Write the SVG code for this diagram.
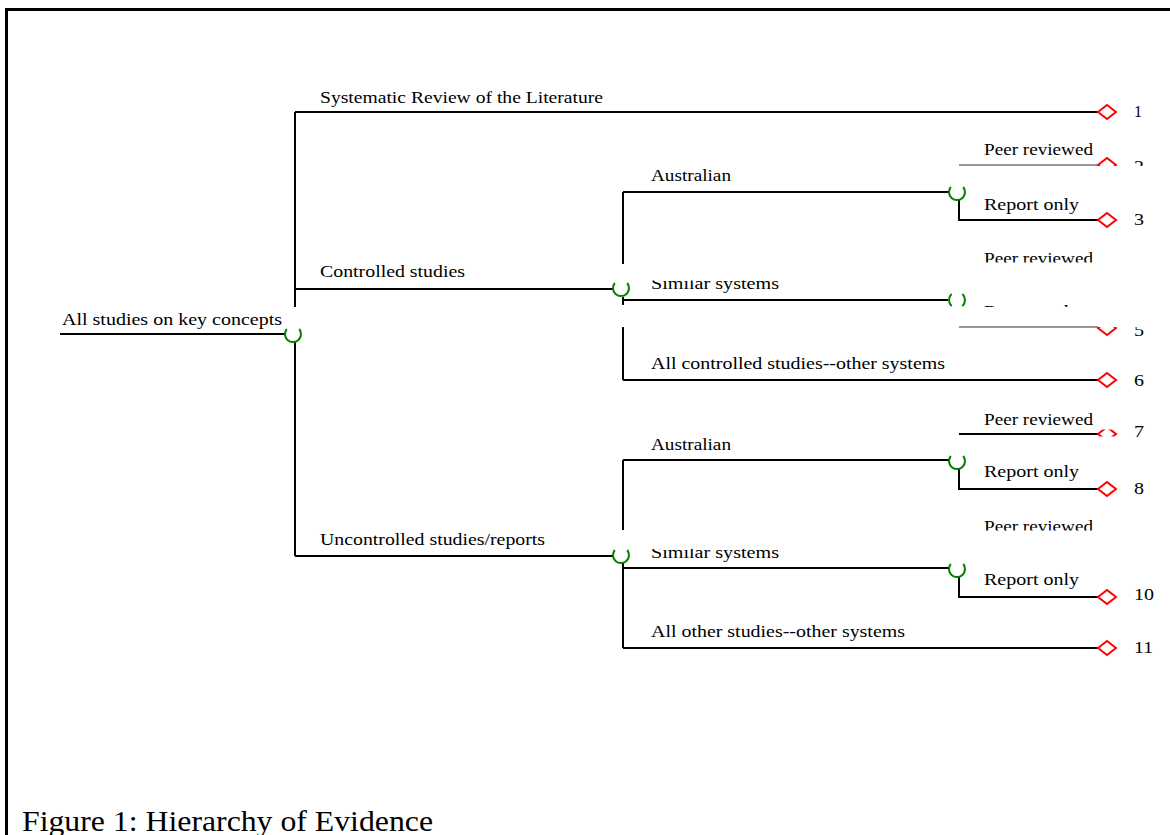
<svg xmlns="http://www.w3.org/2000/svg" width="1170" height="835" viewBox="0 0 1170 835">
<style>
  .ln{stroke:#000;stroke-width:2;fill:none}
  .thin{stroke:#333;stroke-width:1.2;fill:none}
  .bd{stroke:#000;stroke-width:3;fill:none}
  .ch{stroke:#008000;stroke-width:2;fill:none}
  .dm{stroke:#ff0000;stroke-width:2;fill:none}
  text{font-family:"Liberation Serif","Times New Roman",serif;font-size:16px;fill:#000}
  .cap{font-size:30px}
</style>
<defs>
  <path id="u" d="M-6.2,-5 A8,8 0 1 0 6.2,-5"/>
  <polygon id="d" points="-9,0 0,-7 9,0 0,7"/>
  <clipPath id="cP4"><rect x="900" y="0" width="270" height="262.5"/></clipPath>
  <clipPath id="cR5"><rect x="900" y="290" width="270" height="17"/></clipPath>
  <clipPath id="cB5"><rect x="900" y="327" width="270" height="30"/></clipPath>
  <clipPath id="cT2"><rect x="900" y="140" width="270" height="26"/></clipPath>
  <clipPath id="cM7"><rect x="1090" y="429.5" width="40" height="7"/></clipPath>
  <clipPath id="cP9"><rect x="900" y="500" width="270" height="30.5"/></clipPath>
  <clipPath id="cS1"><rect x="600" y="280.5" width="300" height="30"/></clipPath>
  <clipPath id="cS2"><rect x="600" y="549" width="300" height="30"/></clipPath>
  <clipPath id="cN"><rect x="940" y="293" width="40" height="14"/></clipPath>
</defs>

<g id="frame">
  <path class="bd" d="M6.5,835 V9.5 H1170"/>
</g>

<g id="connectors">
  <path class="ln" d="M60,334 H285"/>
  <path class="ln" d="M295,112 V307 M295,341 V556"/>
  <path class="ln" d="M295,112 H1098"/>
  <path class="ln" d="M295,289 H613"/>
  <path class="ln" d="M295,556 H613"/>
  <path class="ln" d="M623,192 V264 M623,297 V305 M623,327 V380"/>
  <path class="ln" d="M623,192 H949"/>
  <path class="ln" d="M623,300 H948"/>
  <path class="ln" d="M623,380 H1098"/>
  <path class="ln" d="M959,200 V220 H1098"/>
  <path class="thin" d="M959,165 H1098"/>
  <path class="thin" d="M959,327 H1098"/>
  <path class="ln" d="M623,460 V530 M623,563 V648"/>
  <path class="ln" d="M623,460 H949"/>
  <path class="ln" d="M623,568 H949"/>
  <path class="ln" d="M623,648 H1098"/>
  <path class="ln" d="M959,434 H1098"/>
  <path class="ln" d="M959,469 V489 H1098"/>
  <path class="ln" d="M959,577 V597 H1098"/>
</g>

<g id="root">
  <use href="#u" class="ch" transform="translate(293,334)"/>
  <text x="62" y="325" textLength="220" lengthAdjust="spacingAndGlyphs">All studies on key concepts</text>
</g>

<g id="systematic">
  <text x="320" y="103" textLength="283" lengthAdjust="spacingAndGlyphs">Systematic Review of the Literature</text>
  <use href="#d" class="dm" transform="translate(1107,112)"/>
  <text x="1134" y="117" textLength="8" lengthAdjust="spacingAndGlyphs">1</text>
</g>

<g id="controlled">
  <text x="320" y="277" textLength="145" lengthAdjust="spacingAndGlyphs">Controlled studies</text>
  <use href="#u" class="ch" transform="translate(621,288)"/>
</g>

<g id="c-australian">
  <text x="651" y="181" textLength="80" lengthAdjust="spacingAndGlyphs">Australian</text>
  <use href="#u" class="ch" transform="translate(957,192)"/>
</g>
<g id="c-aus-peer">
  <text x="984" y="155" textLength="109" lengthAdjust="spacingAndGlyphs">Peer reviewed</text>
  <g clip-path="url(#cT2)">
    <use href="#d" class="dm" transform="translate(1107,165)"/>
    <text x="1134" y="172" textLength="10" lengthAdjust="spacingAndGlyphs">2</text>
  </g>
</g>
<g id="c-aus-report">
  <text x="984" y="210" textLength="95" lengthAdjust="spacingAndGlyphs">Report only</text>
  <use href="#d" class="dm" transform="translate(1107,220)"/>
  <text x="1134" y="225" textLength="10" lengthAdjust="spacingAndGlyphs">3</text>
</g>

<g id="c-similar">
  <text x="651" y="289" textLength="128" lengthAdjust="spacingAndGlyphs" clip-path="url(#cS1)">Similar systems</text>
  <g clip-path="url(#cN)">
    <path class="ch" d="M951.7,294 A8,8 0 0 0 951.7,306 M962.3,294 A8,8 0 0 1 962.3,306"/>
  </g>
</g>
<g id="c-sim-peer">
  <text x="984" y="264" textLength="109" lengthAdjust="spacingAndGlyphs" clip-path="url(#cP4)">Peer reviewed</text>
</g>
<g id="c-sim-report">
  <text x="984" y="317" textLength="95" lengthAdjust="spacingAndGlyphs" clip-path="url(#cR5)">Report only</text>
  <g clip-path="url(#cB5)">
    <use href="#d" class="dm" transform="translate(1107,328)"/>
    <text x="1134" y="336" textLength="10" lengthAdjust="spacingAndGlyphs">5</text>
  </g>
</g>

<g id="c-other">
  <text x="651" y="369" textLength="294" lengthAdjust="spacingAndGlyphs">All controlled studies--other systems</text>
  <use href="#d" class="dm" transform="translate(1107,380)"/>
  <text x="1134" y="386" textLength="10" lengthAdjust="spacingAndGlyphs">6</text>
</g>

<g id="uncontrolled">
  <text x="320" y="545" textLength="225" lengthAdjust="spacingAndGlyphs">Uncontrolled studies/reports</text>
  <use href="#u" class="ch" transform="translate(621,555)"/>
</g>

<g id="u-australian">
  <text x="651" y="450" textLength="80" lengthAdjust="spacingAndGlyphs">Australian</text>
  <use href="#u" class="ch" transform="translate(957,461)"/>
</g>
<g id="u-aus-peer">
  <text x="984" y="425" textLength="109" lengthAdjust="spacingAndGlyphs">Peer reviewed</text>
  <g clip-path="url(#cM7)">
    <use href="#d" class="dm" transform="translate(1107,434)"/>
  </g>
  <text x="1134" y="437" textLength="10" lengthAdjust="spacingAndGlyphs">7</text>
</g>
<g id="u-aus-report">
  <text x="984" y="477" textLength="95" lengthAdjust="spacingAndGlyphs">Report only</text>
  <use href="#d" class="dm" transform="translate(1107,489)"/>
  <text x="1134" y="494" textLength="10" lengthAdjust="spacingAndGlyphs">8</text>
</g>

<g id="u-similar">
  <text x="651" y="558" textLength="128" lengthAdjust="spacingAndGlyphs" clip-path="url(#cS2)">Similar systems</text>
  <use href="#u" class="ch" transform="translate(957,569)"/>
</g>
<g id="u-sim-peer">
  <text x="984" y="532" textLength="109" lengthAdjust="spacingAndGlyphs" clip-path="url(#cP9)">Peer reviewed</text>
</g>
<g id="u-sim-report">
  <text x="984" y="585" textLength="95" lengthAdjust="spacingAndGlyphs">Report only</text>
  <use href="#d" class="dm" transform="translate(1107,597)"/>
  <text x="1134" y="600" textLength="20" lengthAdjust="spacingAndGlyphs">10</text>
</g>

<g id="u-other">
  <text x="651" y="637" textLength="254" lengthAdjust="spacingAndGlyphs">All other studies--other systems</text>
  <use href="#d" class="dm" transform="translate(1107,648)"/>
  <text x="1134" y="653" textLength="19" lengthAdjust="spacingAndGlyphs">11</text>
</g>

<g id="caption">
  <text class="cap" x="22" y="831" textLength="411" lengthAdjust="spacingAndGlyphs">Figure 1: Hierarchy of Evidence</text>
</g>
</svg>
